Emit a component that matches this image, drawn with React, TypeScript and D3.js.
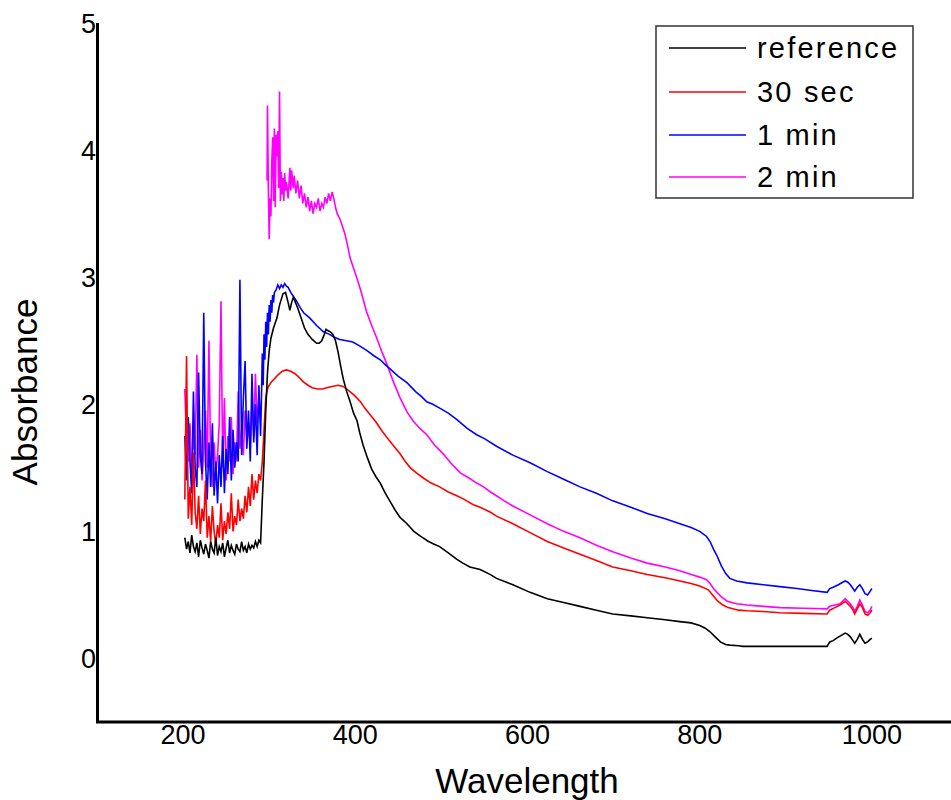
import React from "react";
import * as d3 from "d3";

// Wavelength grid of the noisy deep-UV region (nm)
const noiseNm = [
  202, 204, 206, 208, 210, 212, 214, 216, 218, 220, 222, 224, 226, 228, 230,
  232, 234, 236, 238, 240, 242, 244, 246, 248, 250, 252, 254, 256, 258, 260,
  262, 264, 266, 268, 270, 272, 274, 276, 278, 280, 282, 284, 286, 288, 290,
];

// Absorbance in the noisy region, one value per noiseNm entry
const referenceNoise = [
  0.95, 0.86, 0.92, 0.83, 0.97, 0.88, 0.84, 0.91, 0.8, 0.93, 0.87, 0.82, 0.9, 0.85, 0.79,
  0.92, 0.86, 0.83, 0.95, 0.81, 0.88, 0.84, 0.91, 0.8, 0.87, 0.93, 0.83, 0.89, 0.85, 0.82,
  0.9, 0.86, 0.84, 0.92, 0.85, 0.88, 0.83, 0.9, 0.86, 0.89, 0.87, 0.92, 0.88, 0.93, 0.91,
];
const sec30Noise = [
  1.25, 2.38, 1.1, 1.35, 1.05, 1.62, 1.15, 1.02, 1.28, 0.98, 1.18, 1.08, 1.4, 0.95, 1.12,
  0.92, 1.2, 1.0, 0.9, 1.05, 0.95, 1.22, 0.93, 1.08, 0.98, 1.15, 1.02, 1.3, 1.0, 1.12,
  1.05, 1.25, 1.08, 1.18, 1.1, 1.28, 1.15, 1.35, 1.2, 1.45, 1.25, 1.4, 1.3, 1.45, 1.4,
];
const min1Noise = [
  1.75, 1.4, 1.9, 1.55, 1.3, 2.1, 1.5, 1.35, 2.25, 1.6, 1.45, 2.72, 1.55, 1.25, 1.7,
  1.35, 1.85, 1.28, 1.55, 1.22, 1.6, 1.35, 1.75, 1.3, 1.65, 1.45, 1.9, 1.4, 1.8, 1.5,
  1.7, 1.55, 2.98, 1.6, 2.05, 2.34, 1.65, 1.95, 1.55, 2.24, 1.7, 2.0, 1.6, 2.15, 1.75,
];
const min2Noise = [
  2.12, 1.7, 1.55, 1.85, 1.45, 1.75, 1.6, 2.39, 1.5, 1.8, 1.4, 1.65, 1.95, 1.5, 2.5,
  1.55, 1.35, 1.7, 1.45, 1.6, 1.85, 2.81, 1.5, 2.05, 1.4, 1.75, 1.55, 1.9, 1.45, 1.7,
  1.55, 2.1, 1.65, 1.8, 1.6, 1.95, 1.7, 1.85, 1.65, 2.0, 1.75, 2.24, 1.85, 2.05, 1.9,
];

// [wavelength nm, absorbance] beyond the noisy region
const referenceCurve: [number, number][] = [
  [292, 1.25], [294, 1.55], [296, 1.95], [298, 2.25], [300, 2.42], [302, 2.52], [305, 2.6],
  [309, 2.68], [312, 2.78], [316, 2.87], [319, 2.88], [322, 2.8], [324, 2.74], [326, 2.8],
  [328, 2.84], [330, 2.81], [333, 2.76], [337, 2.68], [341, 2.6], [345, 2.55], [350, 2.51],
  [355, 2.48], [358, 2.48], [361, 2.5], [364, 2.55], [366, 2.59], [368, 2.58], [371, 2.57],
  [374, 2.55], [377, 2.5], [380, 2.41], [383, 2.3], [386, 2.2], [390, 2.1], [394, 2.02],
  [398, 1.93], [402, 1.87], [405, 1.78], [409, 1.68], [414, 1.58], [419, 1.49], [424, 1.43],
  [429, 1.38], [434, 1.31], [440, 1.24], [446, 1.17], [452, 1.11], [460, 1.06], [468, 1.0],
  [476, 0.96], [485, 0.92], [491, 0.9], [498, 0.88], [508, 0.83], [518, 0.78], [525, 0.75],
  [533, 0.72], [545, 0.7], [557, 0.66], [564, 0.63], [583, 0.58], [603, 0.52], [623, 0.47],
  [642, 0.44], [661, 0.41], [680, 0.38], [699, 0.35], [720, 0.335], [739, 0.32], [760, 0.305],
  [777, 0.29], [790, 0.28], [800, 0.26], [806, 0.24], [812, 0.21], [818, 0.17], [824, 0.13],
  [830, 0.11], [835, 0.105], [845, 0.1], [850, 0.095], [900, 0.095], [948, 0.095], [951, 0.13],
  [955, 0.14], [959, 0.16], [964, 0.18], [969, 0.2], [972, 0.19], [975, 0.17], [978, 0.14],
  [980, 0.12], [983, 0.15], [986, 0.19], [989, 0.15], [992, 0.12], [995, 0.13], [998, 0.15],
  [1000, 0.16],
];

const sec30Curve: [number, number][] = [
  [292, 1.55], [294, 1.8], [296, 2.05], [298, 2.12], [300, 2.15], [303, 2.18], [306, 2.2],
  [310, 2.23], [315, 2.26], [320, 2.27], [325, 2.26], [330, 2.24], [335, 2.21], [339, 2.18],
  [345, 2.15], [350, 2.13], [356, 2.12], [362, 2.12], [367, 2.13], [373, 2.14], [380, 2.15],
  [386, 2.14], [392, 2.11], [399, 2.07], [406, 2.02], [411, 1.97], [417, 1.92], [424, 1.86],
  [431, 1.79], [440, 1.71], [446, 1.66], [452, 1.61], [458, 1.55], [464, 1.5], [471, 1.46],
  [479, 1.42], [488, 1.38], [498, 1.35], [508, 1.31], [518, 1.28], [527, 1.25], [537, 1.21],
  [545, 1.19], [557, 1.15], [564, 1.12], [583, 1.06], [603, 0.99], [623, 0.92], [642, 0.87],
  [661, 0.82], [680, 0.77], [699, 0.72], [720, 0.69], [739, 0.66], [760, 0.635], [777, 0.61],
  [790, 0.59], [800, 0.57], [810, 0.54], [815, 0.5], [821, 0.45], [827, 0.42], [833, 0.4],
  [845, 0.38], [855, 0.375], [874, 0.37], [893, 0.36], [920, 0.355], [948, 0.35], [951, 0.38],
  [957, 0.4], [963, 0.42], [969, 0.45], [972, 0.43], [975, 0.41], [978, 0.38], [980, 0.35],
  [983, 0.39], [986, 0.43], [989, 0.4], [992, 0.35], [995, 0.34], [998, 0.36], [1000, 0.38],
];

const min1Curve: [number, number][] = [
  [291, 2.05], [292, 2.4], [293, 2.15], [294, 2.55], [295, 2.35], [296, 2.65], [297, 2.45],
  [298, 2.72], [299, 2.55], [300, 2.78], [301, 2.65], [302, 2.82], [303, 2.72], [304, 2.86],
  [305, 2.8], [306, 2.88], [308, 2.9], [310, 2.94], [312, 2.91], [314, 2.94], [316, 2.92],
  [318, 2.95], [320, 2.93], [322, 2.92], [325, 2.88], [328, 2.85], [332, 2.81], [336, 2.76],
  [340, 2.72], [347, 2.68], [355, 2.62], [363, 2.57], [370, 2.55], [375, 2.53], [382, 2.51],
  [390, 2.5], [397, 2.49], [405, 2.46], [414, 2.42], [422, 2.38], [429, 2.35], [435, 2.31],
  [440, 2.28], [450, 2.22], [460, 2.17], [470, 2.1], [477, 2.06], [483, 2.02], [490, 2.0],
  [498, 1.97], [508, 1.93], [518, 1.88], [530, 1.81], [541, 1.76], [550, 1.73], [564, 1.67],
  [583, 1.6], [603, 1.54], [623, 1.47], [642, 1.41], [661, 1.35], [680, 1.3], [699, 1.24],
  [720, 1.19], [739, 1.14], [760, 1.1], [777, 1.06], [790, 1.03], [800, 1.0], [808, 0.96],
  [812, 0.92], [816, 0.86], [820, 0.81], [825, 0.73], [830, 0.67], [835, 0.63], [843, 0.61],
  [855, 0.595], [874, 0.58], [893, 0.565], [913, 0.55], [930, 0.535], [948, 0.52], [951, 0.55],
  [955, 0.56], [961, 0.58], [966, 0.6], [969, 0.61], [972, 0.6], [975, 0.58], [978, 0.55],
  [980, 0.53], [983, 0.56], [986, 0.58], [989, 0.55], [992, 0.51], [995, 0.5], [998, 0.53],
  [1000, 0.55],
];

// The 2 min spectrum resumes after a short gap in the record
const min2Curve: [number, number][] = [
  [297.5, 3.76], [298, 4.35], [299, 3.7], [300, 3.3], [301, 3.62], [302, 3.48], [303, 3.9],
  [304, 4.1], [305, 3.6], [306, 4.17], [307, 3.55], [308, 4.12], [309, 3.95], [310, 4.15],
  [311, 3.7], [312, 4.46], [313, 3.6], [314, 3.83], [315, 3.65], [316, 3.78], [317, 3.6],
  [318, 3.82], [319, 3.68], [320, 3.75], [322, 3.62], [324, 3.86], [325, 3.68], [326, 3.84],
  [328, 3.7], [329, 3.8], [331, 3.66], [333, 3.76], [335, 3.62], [337, 3.72], [339, 3.58],
  [341, 3.66], [343, 3.55], [345, 3.63], [347, 3.52], [349, 3.6], [351, 3.5], [353, 3.58],
  [355, 3.55], [357, 3.62], [359, 3.52], [361, 3.58], [363, 3.55], [365, 3.63], [367, 3.58],
  [369, 3.66], [371, 3.6], [373, 3.67], [375, 3.62], [377, 3.55], [379, 3.5], [382, 3.46],
  [385, 3.4], [388, 3.34], [391, 3.25], [394, 3.15], [398, 3.07], [402, 2.99], [407, 2.88],
  [413, 2.73], [419, 2.62], [425, 2.52], [431, 2.41], [437, 2.31], [444, 2.18], [452, 2.05],
  [460, 1.94], [467, 1.87], [475, 1.81], [483, 1.76], [492, 1.68], [502, 1.61], [512, 1.53],
  [522, 1.46], [532, 1.42], [541, 1.38], [549, 1.35], [557, 1.31], [564, 1.28], [573, 1.24],
  [583, 1.2], [603, 1.13], [623, 1.06], [642, 1.0], [661, 0.95], [680, 0.89], [699, 0.84],
  [720, 0.79], [739, 0.75], [760, 0.72], [777, 0.69], [790, 0.66], [800, 0.64], [808, 0.62],
  [812, 0.59], [816, 0.55], [820, 0.52], [826, 0.48], [832, 0.45], [843, 0.43], [855, 0.42],
  [874, 0.41], [893, 0.4], [920, 0.395], [948, 0.39], [951, 0.41], [957, 0.42], [963, 0.43],
  [969, 0.47], [972, 0.45], [975, 0.43], [978, 0.4], [980, 0.37], [983, 0.41], [986, 0.46],
  [989, 0.42], [992, 0.37], [995, 0.36], [998, 0.38], [1000, 0.41],
];

const seriesNames = ["reference", "30 sec", "1 min", "2 min"];
const seriesColors = ["#000000", "#ff0000", "#0000ff", "#ff00ff"];

const xTicks = [200, 400, 600, 800, 1000];
const yTicks = [0, 1, 2, 3, 4, 5];

const W = 951;
const H = 800;
const FONT = "'Liberation Sans', Arial, Helvetica, sans-serif";

const x = d3.scaleLinear().domain([100, 1100]).range([97, 958]);
const y = d3.scaleLinear().domain([-0.5, 5]).range([722, 23]);

const line = d3
  .line<[number, number]>()
  .x((d) => x(d[0]))
  .y((d) => y(d[1]));

const zipNoise = (vals: number[]): [number, number][] =>
  noiseNm.map((nm, i) => [nm, vals[i]] as [number, number]);

// Each series is a list of continuous segments
const segments: [number, number][][][] = [
  [[...zipNoise(referenceNoise), ...referenceCurve]],
  [[...zipNoise(sec30Noise), ...sec30Curve]],
  [[...zipNoise(min1Noise), ...min1Curve]],
  [zipNoise(min2Noise), min2Curve],
];

// later series are drawn underneath earlier ones
const drawOrder = [3, 2, 1, 0];

export default function App() {
  const legendX = 656;
  const legendY = 26;
  const rowY = [48, 92, 135, 177];

  return (
    <svg
      width={W}
      height={H}
      style={{ position: "absolute", left: 0, top: 0, background: "#fff" }}
      fontFamily={FONT}
    >
      <rect x={0} y={0} width={W} height={H} fill="#fff" />

      {drawOrder.map((si) => (
        <g key={si}>
          {segments[si].map((seg, k) => (
            <path
              key={k}
              d={line(seg) || ""}
              fill="none"
              stroke={seriesColors[si]}
              strokeWidth={1.6}
              strokeLinejoin="miter"
            />
          ))}
        </g>
      ))}

      {/* axes */}
      <line x1={97.5} y1={y(5)} x2={97.5} y2={723} stroke="#000" strokeWidth={3} />
      <line x1={96} y1={722} x2={W} y2={722} stroke="#000" strokeWidth={3} />

      {yTicks.map((t) => (
        <text
          key={t}
          x={96}
          y={y(t) + 9.5}
          textAnchor="end"
          fontSize={27}
          fill="#000"
        >
          {t}
        </text>
      ))}
      {xTicks.map((t) => (
        <text key={t} x={x(t)} y={743.5} textAnchor="middle" fontSize={27} fill="#000">
          {t}
        </text>
      ))}

      <text x={527} y={793} textAnchor="middle" fontSize={35} fill="#000">
        Wavelength
      </text>
      <text
        transform="translate(37,392) rotate(-90)"
        textAnchor="middle"
        fontSize={35}
        fill="#000"
      >
        Absorbance
      </text>

      {/* legend */}
      <rect
        x={legendX}
        y={legendY}
        width={257}
        height={172}
        fill="#fff"
        stroke="#333"
        strokeWidth={1.5}
      />
      {seriesNames.map((name, i) => (
        <g key={name}>
          <line
            x1={669}
            x2={746}
            y1={rowY[i]}
            y2={rowY[i]}
            stroke={seriesColors[i]}
            strokeWidth={1.4}
          />
          <text x={757} y={rowY[i] + 10} fontSize={29} letterSpacing={2.2} fill="#000">
            {name}
          </text>
        </g>
      ))}
    </svg>
  );
}
